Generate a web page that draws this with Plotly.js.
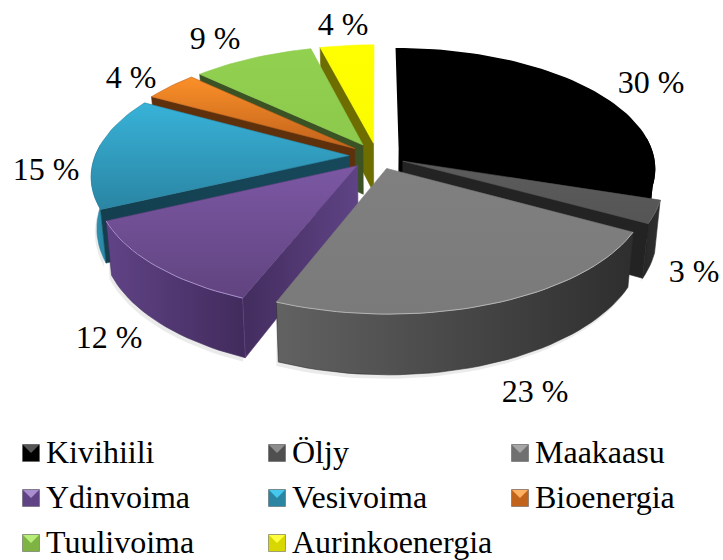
<!DOCTYPE html>
<html><head><meta charset="utf-8">
<script src="https://cdn.plot.ly/plotly-3.0.1.min.js"></script>
<style>html,body{margin:0;padding:0;background:#fff}#c{width:723px;height:560px}</style>
</head><body><div id="c"></div>
<script>
// Data
const categories = ["Kivihiili","Öljy","Maakaasu","Ydinvoima","Vesivoima","Bioenergia","Tuulivoima","Aurinkoenergia"];
const shares = [30,3,23,12,15,4,9,4];

const topColors = [["#000000","#000000"],["#5c5c5c","#555555"],["#808080","#7a7a7a"],["#7c58a4","#60437f"],["#38b2d8","#2a85a3"],["#fb9029","#c2631c"],["#92d050","#8cc94c"],["#ffff00","#fbfb00"]];
const rimColors = [["#000000","#000000"],["#262626","#303030"],["#626262","#2e2e2e"],["#604386","#412b5c"],["#2f94b5","#2a85a3"],["#7a3f10","#7a3f10"],["#4a6a2a","#4a6a2a"],["#808000","#808000"]];
const cutColors = [["#000000","#000000"],["#232323","#232323"],["#333333","#333333"],["#432d5e","#5f4385"],["#133f4f","#17495b"],["#5f300c","#5f300c"],["#3b5224","#3b5224"],["#6e6e00","#6e6e00"]];
const edgeColors = [null,"#666666","#b5b5b5","#a98fcb",null,null,null,null];
const legendTop = ["#555555","#8c8c8c","#a6a6a6","#a98fd0","#45c8ee","#ffb060","#b6ee78","#ffff40"];
const legendBase = ["#000000","#4f4f4f","#707070","#5f4385","#2a85a3","#c2631c","#7fb445","#d8d800"];

const cx=377, cy=156, Rx=254, Ry=118, persp=0.16, explode=0.11, depth=50, bottomShrink=0.98;
const drawOrder=[7,6,5,4,0,1,3,2];
const labelX=[651,694,535,109,46,131,215,343];
const labelY=[85,274,394,340,172,80,41,27];
const legendCols=[31,277,520], legendRows=[455,500,545];
const fontFamily='"Liberation Serif","Times New Roman",serif';
const fontSize=32;

function proj(X,Y,down){
  const s=1/(1-persp*Y);
  const shrink=down?bottomShrink:1;
  return [cx+Rx*X*s*shrink, cy+Ry*Y*s+(down?depth*s:0)];
}
const total=shares.reduce((a,b)=>a+b,0);
const rad=d=>d*Math.PI/180;
const traces=[];
function poly(pts,grad,type){
  const flip=type==='vertical';
  const isBlack=grad[0]==='#000000';
  traces.push({type:'scatter',mode:'lines',x:pts.map(p=>p[0]),y:pts.map(p=>p[1]),
    fill:'toself',fillcolor:grad[0],line:{width:isBlack?1.5:0.6,color:grad[1]},hoverinfo:'skip',showlegend:false,
    fillgradient:{type:type,colorscale:flip?[[0,grad[1]],[1,grad[0]]]:[[0,grad[0]],[1,grad[1]]]}});
}
let acc=0; const slices=shares.map((v,i)=>{const a0=acc/total*360; acc+=v; const a1=acc/total*360; return {i,a0,a1};});
function sliceGeom(s){
  const mid=rad((s.a0+s.a1)/2);
  const ox=explode*Math.sin(mid), oy=-explode*Math.cos(mid);
  const P=(th,down)=>proj(ox+Math.sin(rad(th)),oy-Math.cos(rad(th)),down);
  const A=down=>proj(ox,oy,down);
  return {P,A};
}
function range(a,b){const n=Math.max(2,Math.ceil((b-a)/2));const r=[];for(let k=0;k<=n;k++)r.push(a+(b-a)*k/n);return r;}

slices.forEach(s=>{
  const g=sliceGeom(s), a=Math.max(s.a0,85), b=Math.min(s.a1,275);
  if(b<=a) return;
  const arc=range(a,b).map(t=>g.P(t,true)).map(p=>[p[0]-2,p[1]+4]);
  const arcT=range(a,b).reverse().map(t=>g.P(t,false));
  const pts=arc.concat(arcT);pts.push(pts[0]);
  traces.push({type:'scatter',mode:'lines',x:pts.map(p=>p[0]),y:pts.map(p=>p[1]),fill:'toself',fillcolor:'rgba(0,0,0,0.08)',line:{width:0},hoverinfo:'skip',showlegend:false});
});

drawOrder.forEach(idx=>{
  const s=slices[idx], g=sliceGeom(s), i=s.i;
  const a=Math.max(s.a0,85), b=Math.min(s.a1,275);
  if(b>a){
    const up=range(a,b).map(t=>g.P(t,false)), dn=range(a,b).reverse().map(t=>g.P(t,true));
    const pts=up.concat(dn);pts.push(pts[0]);
    poly(pts,rimColors[i],'horizontal');
  }
  const addCut=(th)=>{
    const pts=[g.A(false),g.P(th,false),g.P(th,true),g.A(true),g.A(false)];
    poly(pts,cutColors[i],'horizontal');
  };
  if(Math.sin(rad(s.a0))*-1>0.01) addCut(s.a0);
  if(Math.sin(rad(s.a1))>0.01) addCut(s.a1);
  const tp=[g.A(false)].concat(range(s.a0,s.a1).map(t=>g.P(t,false)));tp.push(tp[0]);
  poly(tp,topColors[i],'vertical');
  if(edgeColors[i]){
    const ea=Math.max(s.a0,90), eb=Math.min(s.a1,270);
    const arc=range(ea,eb).map(t=>g.P(t,false));
    traces.push({type:'scatter',mode:'lines',x:arc.map(p=>p[0]),y:arc.map(p=>p[1]),line:{width:1,color:edgeColors[i]},hoverinfo:'skip',showlegend:false});
  }
});

traces.push({type:'scatter',mode:'text',x:labelX,y:labelY,text:shares.map(v=>v+' %'),textposition:'middle center',
  textfont:{family:fontFamily,size:fontSize,color:'#000'},hoverinfo:'skip',showlegend:false});

const lx=categories.map((c,i)=>legendCols[i%3]), ly=categories.map((c,i)=>legendRows[Math.floor(i/3)]);
const my=ly.map(v=>v-2);
traces.push({type:'scatter',mode:'markers',x:lx,y:my,marker:{symbol:'square',size:17,color:legendBase,line:{width:0.5,color:'#555'}},hoverinfo:'skip',showlegend:false});
lx.forEach((x,i)=>{
  const y=my[i];
  traces.push({type:'scatter',mode:'lines',x:[x-8,x+8,x,x-8],y:[y-8,y-8,y,y-8],fill:'toself',fillcolor:legendTop[i],line:{width:0},hoverinfo:'skip',showlegend:false});
});
traces.push({type:'scatter',mode:'text',x:lx.map(v=>v+15),y:ly,text:categories,textposition:'middle right',
  textfont:{family:fontFamily,size:fontSize,color:'#000'},hoverinfo:'skip',showlegend:false});

Plotly.newPlot('c',traces,{
  width:723,height:560,margin:{l:0,r:0,t:0,b:0},paper_bgcolor:'#fff',plot_bgcolor:'#fff',showlegend:false,
  xaxis:{range:[0,723],visible:false,fixedrange:true},
  yaxis:{range:[560,0],visible:false,fixedrange:true}
},{displayModeBar:false,staticPlot:true});
</script></body></html>
